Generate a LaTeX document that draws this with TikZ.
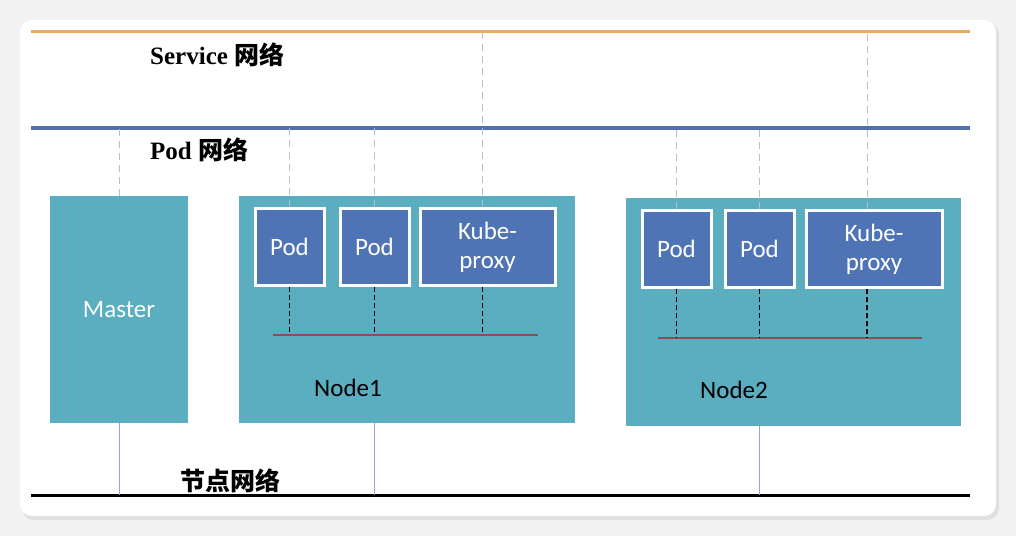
\documentclass[tikz,border=0pt]{standalone}
\usepackage{fontspec}
\setmainfont{Liberation Serif}
\setsansfont{Carlito}
\newfontfamily\cjk{Noto Sans CJK SC Bold}
\usetikzlibrary{positioning}

\definecolor{tealbox}{RGB}{90,174,191}
\definecolor{podblue}{RGB}{79,116,181}
\definecolor{svcline}{RGB}{238,168,98}
\definecolor{podline}{RGB}{82,112,168}
\definecolor{dashgray}{RGB}{180,190,212}
\definecolor{bridgeline}{RGB}{140,78,82}

\begin{document}
\begin{tikzpicture}[x=1pt, y=-1pt,
    hostbox/.style={fill=tealbox, inner sep=0pt, font=\sffamily\fontsize{25}{30}\selectfont},
    podbox/.style={fill=podblue, draw=white, line width=3pt, minimum height=77pt, inner sep=0pt,
        text=white, align=center, font=\sffamily\fontsize{25}{29}\selectfont},
    netlabel/.style={anchor=west, inner sep=0pt, font=\bfseries\fontsize{25}{30}\selectfont},
    netlink/.style={dashgray, dashed, dash pattern=on 7pt off 5pt, line width=0.9pt},
    podlink/.style={black, dashed, dash pattern=on 5pt off 3pt, line width=1.4pt},
    hostlink/.style={podline!60, line width=0.9pt}]
    % background card
    \useasboundingbox (0,0) rectangle (1016,536);
    \fill[gray!10] (0,0) rectangle (1016,536);
    \fill[black!12, rounded corners=12pt] (22,23) rectangle (999,520);
    \fill[white, rounded corners=12pt] (20,20) rectangle (996,516);

    % network lines
    \coordinate (svcL) at (31,31);
    \coordinate (svcR) at (970,31);
    \coordinate (podL) at (31,128);
    \coordinate (podR) at (970,128);
    \coordinate (nodeL) at (31,495);
    \coordinate (nodeR) at (970,495);
    \draw[svcline, line width=3pt] (svcL) -- (svcR);
    \draw[podline, line width=4pt] (podL) -- (podR);
    \draw[black, line width=3pt] (nodeL) -- (nodeR);

    \node[netlabel] (svclabel) at (150,55) {Service {\cjk 网络}};
    \node[netlabel] (podlabel) at (150,150) {Pod {\cjk 网络}};
    \node[netlabel] (nodelabel) at (180,481) {\cjk 节点网络};

    % hosts
    \node[hostbox, minimum width=138pt, minimum height=227pt, text=white] (master) at (119,309.5) {Master};
    \node[hostbox, minimum width=336pt, minimum height=227pt] (node1) at (407,309.5) {};
    \node[hostbox, minimum width=335pt, minimum height=228pt] (node2) at (793.5,312) {};

    % pods in node1
    \node[podbox, minimum width=69pt] (pod11) at (289.5,247) {Pod};
    \node[podbox, minimum width=69pt] (pod12) at (374.5,247) {Pod};
    \node[podbox, minimum width=135pt] (proxy1) at (487.5,247) {Kube-\\proxy};
    % pods in node2
    \node[podbox, minimum width=69pt] (pod21) at (676.5,249) {Pod};
    \node[podbox, minimum width=69pt] (pod22) at (759.5,249) {Pod};
    \node[podbox, minimum width=136pt] (proxy2) at (874,249) {Kube-\\proxy};

    \node[hostbox] (n1label) at (348,388) {Node1};
    \node[hostbox] (n2label) at (734,390) {Node2};

    % bridges inside the nodes
    \coordinate (br1L) at (273,335);
    \coordinate (br1R) at (538,335);
    \coordinate (br2L) at (658,338);
    \coordinate (br2R) at (922,338);
    \draw[bridgeline, line width=1.5pt] (br1L) -- (br1R);
    \draw[bridgeline, line width=1.5pt] (br2L) -- (br2R);
    \foreach \p in {pod11,pod12}
        \draw[podlink] (\p.south) -- (\p.south |- br1L);
    \draw[podlink] ([xshift=-5pt]proxy1.south) -- ([xshift=-5pt]proxy1.south |- br1L);
    \foreach \p in {pod21,pod22}
        \draw[podlink] (\p.south) -- (\p.south |- br2L);
    \draw[podlink] ([xshift=-7pt]proxy2.south) -- ([xshift=-7pt]proxy2.south |- br2L);

    % links to pod network and service network
    \draw[netlink] (master.north) -- (master.north |- podL);
    \foreach \p in {pod11,pod12,pod21,pod22}
        \draw[netlink] (\p.north) -- (\p.north |- podL);
    \draw[netlink] ([xshift=-5pt]proxy1.north) -- ([xshift=-5pt]proxy1.north |- svcL);
    \draw[netlink] ([xshift=-7pt]proxy2.north) -- ([xshift=-7pt]proxy2.north |- svcL);

    % links to node network
    \draw[hostlink] (master.south) -- (master.south |- nodeL);
    \draw[hostlink] (node1.south -| pod12) -- (nodeL -| pod12);
    \draw[hostlink] (node2.south -| pod22) -- (nodeL -| pod22);
\end{tikzpicture}
\end{document}
